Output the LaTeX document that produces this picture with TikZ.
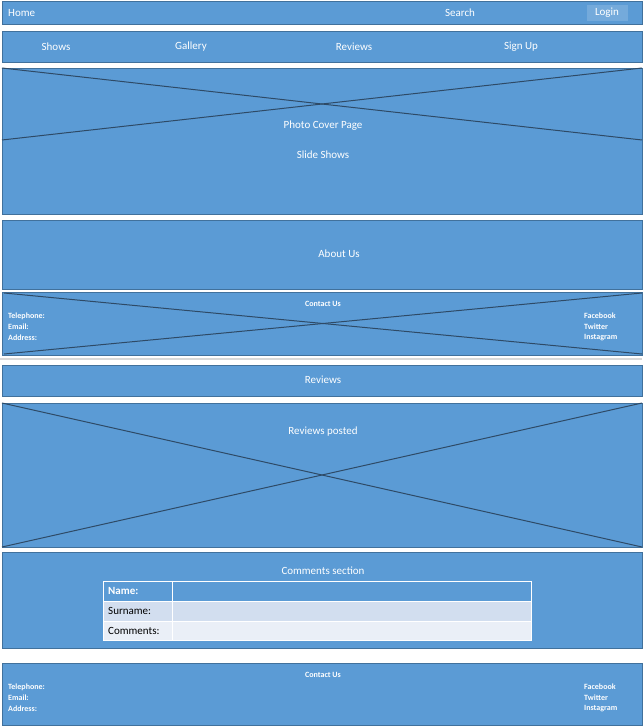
\documentclass[tikz,border=0pt]{standalone}
\usepackage{fontspec}
\setmainfont{Carlito}
\definecolor{fillb}{HTML}{5B9BD5}
\definecolor{edgeb}{HTML}{41719C}
\definecolor{crossc}{HTML}{2E4A66}
\definecolor{rowa}{HTML}{D2DEEF}
\definecolor{rowb}{HTML}{EAEFF7}
\begin{document}
\begin{tikzpicture}[x=1pt,y=-1pt,
  panel/.style={fill=fillb,draw=edgeb,line width=0.8pt},
  crossl/.style={draw=crossc,line width=1pt},
  wt/.style={text=white,font=\fontsize{11}{12}\selectfont,inner sep=0pt},
  st/.style={text=white,font=\bfseries\fontsize{8}{9}\selectfont,inner sep=0pt,anchor=west},
  cell/.style={draw=white,line width=0.8pt}]
\useasboundingbox (0,0) rectangle (642,727);
% top bar
\draw[panel] (2,1) rectangle (642,24);
\node[wt,anchor=west] (home) at (8,13) {Home};
\node[wt] (search) at (460,13) {Search};
\fill[fillb!85!white] (587,5) rectangle (628,21);
\node[wt] (login) at (607,13) {Login};
% nav
\draw[panel] (2,31) rectangle (642,62);
\node[wt] (shows) at (56,47) {Shows};
\node[wt] (gal) at (191,47) {Gallery};
\node[wt] (rev) at (354,47) {Reviews};
\node[wt] (sign) at (521,47) {Sign Up};
% photo
\draw[panel] (2,68) rectangle (642,214);
\draw[crossl] (2,68) -- (642,140);
\draw[crossl] (2,140) -- (642,68);
\node[wt] (photo) at (323,126) {Photo Cover Page};
\node[wt] (slide) at (323,155) {Slide Shows};
% about
\draw[panel] (2,220) rectangle (642,289);
\node[wt] (about) at (339,254) {About Us};
% contact
\draw[panel] (2,292) rectangle (642,355);
\draw[crossl] (4,293) -- (642,354);
\draw[crossl] (4,354) -- (642,293);
\node[st,anchor=center] (cu1) at (323,304) {Contact Us};
\node[st] (t1) at (8,316) {Telephone:};
\node[st] (e1) at (8,327) {Email:};
\node[st] (a1) at (8,338) {Address:};
\node[st] (f1) at (584,316) {Facebook};
\node[st] (tw1) at (584,327) {Twitter};
\node[st] (i1) at (584,338) {Instagram};
\draw[gray!30,line width=1.5pt] (0,359) -- (642,359);
% reviews
\draw[panel] (2,365) rectangle (642,396);
\node[wt] (revh) at (323,380) {Reviews};
\draw[panel] (2,403) rectangle (642,547);
\draw[crossl] (2,403) -- (642,547);
\draw[crossl] (2,547) -- (642,403);
\node[wt] (rp) at (323,432) {Reviews posted};
% comments
\draw[panel] (2,552) rectangle (642,648);
\node[wt] (cs) at (323,571) {Comments section};
\fill[fillb] (103,581) rectangle (531,601);
\fill[rowa] (103,601) rectangle (531,621);
\fill[rowb] (103,621) rectangle (531,640);
\draw[cell] (103,581) rectangle (531,640);
\draw[cell] (172,581) -- (172,640);
\draw[cell] (103,601) -- (531,601);
\draw[cell] (103,621) -- (531,621);
\node[wt,anchor=west,font=\bfseries\fontsize{11}{12}\selectfont] (nm) at (108,591) {Name:};
\node[inner sep=0pt,anchor=west,font=\fontsize{11}{12}\selectfont] (sn) at (108,611) {Surname:};
\node[inner sep=0pt,anchor=west,font=\fontsize{11}{12}\selectfont] (cm) at (108,630.5) {Comments:};
% footer
\draw[panel] (2,663) rectangle (642,725);
\node[st,anchor=center] (cu2) at (323,675) {Contact Us};
\node[st] (t2) at (8,687) {Telephone:};
\node[st] (e2) at (8,698) {Email:};
\node[st] (a2) at (8,709) {Address:};
\node[st] (f2) at (584,687) {Facebook};
\node[st] (tw2) at (584,698) {Twitter};
\node[st] (i2) at (584,709) {Instagram};
\end{tikzpicture}
\end{document}
